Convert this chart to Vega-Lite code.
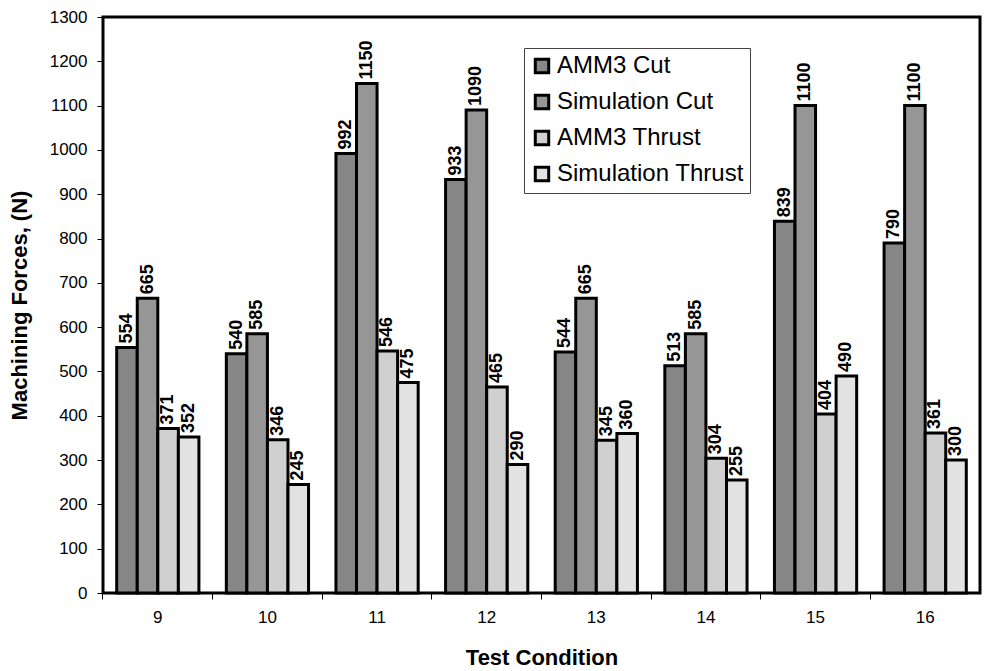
{
  "$schema": "https://vega.github.io/schema/vega-lite/v6.json",
  "width": 877,
  "height": 576,
  "autosize": "none",
  "padding": {"left": 103, "top": 17, "right": 5, "bottom": 78},
  "background": "white",
  "config": {
    "font": "Liberation Sans",
    "view": {"stroke": "black", "strokeWidth": 3},
    "axis": {"domain": false, "labelColor": "black", "titleColor": "black", "tickColor": "black"}
  },
  "data": {"values": [
    {"cond": "9", "series": "AMM3 Cut", "value": 554},
    {"cond": "9", "series": "Simulation Cut", "value": 665},
    {"cond": "9", "series": "AMM3 Thrust", "value": 371},
    {"cond": "9", "series": "Simulation Thrust", "value": 352},
    {"cond": "10", "series": "AMM3 Cut", "value": 540},
    {"cond": "10", "series": "Simulation Cut", "value": 585},
    {"cond": "10", "series": "AMM3 Thrust", "value": 346},
    {"cond": "10", "series": "Simulation Thrust", "value": 245},
    {"cond": "11", "series": "AMM3 Cut", "value": 992},
    {"cond": "11", "series": "Simulation Cut", "value": 1150},
    {"cond": "11", "series": "AMM3 Thrust", "value": 546},
    {"cond": "11", "series": "Simulation Thrust", "value": 475},
    {"cond": "12", "series": "AMM3 Cut", "value": 933},
    {"cond": "12", "series": "Simulation Cut", "value": 1090},
    {"cond": "12", "series": "AMM3 Thrust", "value": 465},
    {"cond": "12", "series": "Simulation Thrust", "value": 290},
    {"cond": "13", "series": "AMM3 Cut", "value": 544},
    {"cond": "13", "series": "Simulation Cut", "value": 665},
    {"cond": "13", "series": "AMM3 Thrust", "value": 345},
    {"cond": "13", "series": "Simulation Thrust", "value": 360},
    {"cond": "14", "series": "AMM3 Cut", "value": 513},
    {"cond": "14", "series": "Simulation Cut", "value": 585},
    {"cond": "14", "series": "AMM3 Thrust", "value": 304},
    {"cond": "14", "series": "Simulation Thrust", "value": 255},
    {"cond": "15", "series": "AMM3 Cut", "value": 839},
    {"cond": "15", "series": "Simulation Cut", "value": 1100},
    {"cond": "15", "series": "AMM3 Thrust", "value": 404},
    {"cond": "15", "series": "Simulation Thrust", "value": 490},
    {"cond": "16", "series": "AMM3 Cut", "value": 790},
    {"cond": "16", "series": "Simulation Cut", "value": 1100},
    {"cond": "16", "series": "AMM3 Thrust", "value": 361},
    {"cond": "16", "series": "Simulation Thrust", "value": 300}
  ]},
  "encoding": {
    "x": {
      "field": "cond", "type": "nominal", "sort": null,
      "scale": {"paddingInner": 0.25, "paddingOuter": 0.125},
      "axis": {"title": "Test Condition", "labelAngle": 0, "labelFontSize": 17, "labelPadding": 10, "ticks": true, "tickSize": 6,
               "bandPosition": -0.1667, "labelOverlap": false,
               "titleFontSize": 22, "titleFontWeight": "bold", "titlePadding": 22}
    },
    "xOffset": {"field": "series", "type": "nominal", "sort": ["AMM3 Cut", "Simulation Cut", "AMM3 Thrust", "Simulation Thrust"]},
    "y": {
      "field": "value", "type": "quantitative",
      "scale": {"domain": [0, 1300], "nice": false},
      "axis": {"title": "Machining Forces, (N)", "values": [0,100,200,300,400,500,600,700,800,900,1000,1100,1200,1300], "format": "d",
               "labelFontSize": 17, "tickSize": 6, "labelPadding": 10, "titleFontSize": 22, "titleFontWeight": "bold", "titlePadding": 18, "grid": false}
    }
  },
  "layer": [
    {
      "mark": {"type": "bar", "stroke": "black", "strokeWidth": 3},
      "encoding": {
        "color": {
          "field": "series", "type": "nominal",
          "sort": ["AMM3 Cut", "Simulation Cut", "AMM3 Thrust", "Simulation Thrust"],
          "scale": {"domain": ["AMM3 Cut", "Simulation Cut", "AMM3 Thrust", "Simulation Thrust"], "range": ["#868686", "#969696", "#d0d0d0", "#e2e2e2"]},
          "legend": {
            "title": null, "orient": "none", "legendX": 421, "legendY": 31,
            "symbolType": "square", "symbolSize": 180, "symbolStrokeColor": "black", "symbolStrokeWidth": 3, "symbolOpacity": 1,
            "labelFontSize": 24, "labelColor": "black", "labelLimit": 400, "labelOffset": 3, "rowPadding": 10,
            "strokeColor": "#444", "padding": 6, "fillColor": "white"
          }
        }
      }
    },
    {
      "mark": {"type": "text", "angle": 270, "align": "left", "baseline": "middle", "dx": 4, "fontSize": 18, "fontWeight": "bold", "color": "black"},
      "encoding": {"text": {"field": "value", "type": "quantitative"}}
    }
  ]
}
